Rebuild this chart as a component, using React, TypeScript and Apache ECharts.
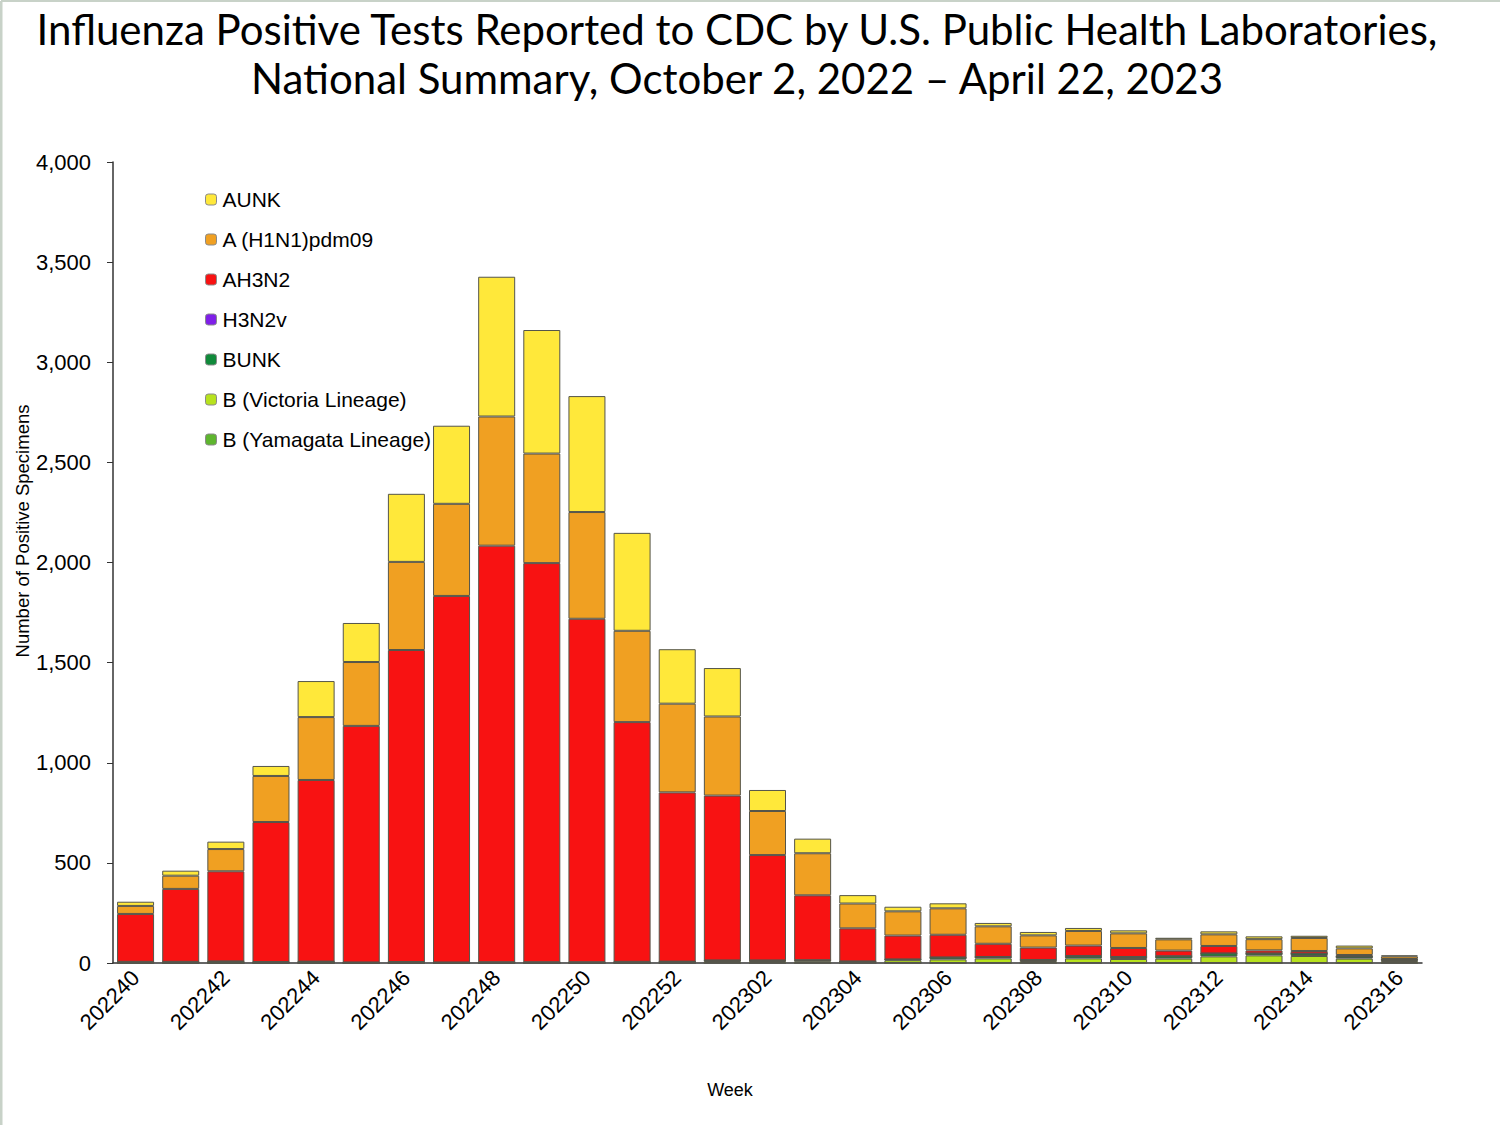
import React, { useEffect, useRef } from "react";
import * as echarts from "echarts";

const weeks = [
  "202240", "202241", "202242", "202243", "202244", "202245", "202246", "202247",
  "202248", "202249", "202250", "202251", "202252", "202301", "202302", "202303",
  "202304", "202305", "202306", "202307", "202308", "202309", "202310", "202311",
  "202312", "202313", "202314", "202315", "202316",
];

const bYamagata = [0, 0, 0, 0, 0, 0, 0, 0, 0, 0, 0, 0, 0, 0, 0, 0, 0, 0, 0, 0, 0, 0, 0, 0, 0, 0, 0, 0, 0];
const bVictoria = [1, 1, 1, 1, 1, 1, 1, 1, 1, 1, 1, 2, 4, 10, 10, 9, 6, 14, 18, 23, 10, 23, 20, 22, 33, 38, 35, 22, 10];
const bUnk = [5, 5, 7, 4, 6, 2, 4, 2, 3, 3, 3, 4, 3, 3, 3, 5, 2, 4, 10, 7, 5, 12, 10, 12, 15, 10, 12, 10, 6];
const h3n2v = [0, 0, 0, 0, 0, 0, 0, 0, 0, 0, 0, 0, 0, 0, 0, 0, 0, 0, 0, 0, 0, 0, 0, 0, 0, 0, 0, 0, 0];
const ah3n2 = [239, 364, 450, 699, 907, 1181, 1558, 1830, 2080, 1993, 1715, 1197, 845, 823, 526, 324, 165, 119, 113, 66, 62, 52, 45, 28, 37, 15, 13, 8, 4];
const h1n1 = [40, 66, 111, 230, 314, 319, 440, 460, 645, 547, 533, 456, 443, 395, 220, 210, 124, 121, 132, 87, 61, 73, 73, 56, 58, 56, 65, 33, 13];
const aUnk = [21, 25, 37, 50, 180, 195, 340, 390, 698, 617, 579, 489, 272, 242, 105, 73, 42, 23, 25, 17, 17, 15, 15, 8, 15, 14, 11, 14, 5];

const yTicks = [0, 500, 1000, 1500, 2000, 2500, 3000, 3500, 4000];

const seriesDefs = [
  { name: "B (Yamagata Lineage)", data: bYamagata, color: "#5EB52E" },
  { name: "B (Victoria Lineage)", data: bVictoria, color: "#B7E21E" },
  { name: "BUNK", data: bUnk, color: "#108A3A" },
  { name: "H3N2v", data: h3n2v, color: "#7F1FE8" },
  { name: "AH3N2", data: ah3n2, color: "#F81212" },
  { name: "A (H1N1)pdm09", data: h1n1, color: "#F0A022" },
  { name: "AUNK", data: aUnk, color: "#FFE83A" },
];

const FONT = "Liberation Sans";

export default function App() {
  const ref = useRef<HTMLDivElement>(null);
  useEffect(() => {
    document.body.style.margin = "0";
    const chart = echarts.init(ref.current!, null, { renderer: "svg" });
    chart.setOption({
      animation: false,
      backgroundColor: "#ffffff",
      textStyle: { fontFamily: FONT },
      grid: { left: 113, right: 78, top: 162, bottom: 162 },
      legend: {
        orient: "vertical",
        left: 205,
        top: 189,
        padding: 0,
        itemWidth: 11,
        itemHeight: 11,
        itemGap: 19,
        data: seriesDefs.map((s) => s.name).reverse(),
        textStyle: { fontSize: 21, color: "#000", fontFamily: FONT, padding: [0, 0, 0, 1] },
        itemStyle: { borderColor: "#8a8a8a", borderWidth: 1 },
      },
      xAxis: {
        type: "category",
        data: weeks,
        axisLine: { lineStyle: { color: "#333", width: 1.5 } },
        axisTick: { interval: 0, length: 7, lineStyle: { color: "#333" } },
        axisLabel: {
          interval: 1,
          rotate: 45,
          fontSize: 22,
          fontFamily: FONT,
          color: "#000",
          margin: 11,
        },
      },
      yAxis: {
        type: "value",
        min: yTicks[0],
        max: yTicks[yTicks.length - 1],
        interval: 500,
        splitLine: { show: false },
        axisLine: { show: true, lineStyle: { color: "#333", width: 1.5 } },
        axisTick: { show: true, length: 6, lineStyle: { color: "#333" } },
        axisLabel: {
          fontSize: 22,
          fontFamily: FONT,
          color: "#000",
          margin: 22,
          formatter: (v: number) => v.toLocaleString("en-US"),
        },
      },
      series: seriesDefs.map((s) => ({
        name: s.name,
        type: "bar",
        stack: "total",
        barWidth: 37,
        data: s.data,
        itemStyle: { color: s.color, borderColor: "#55554a", borderWidth: 1 },
      })),
      graphic: [
        {
          type: "line",
          shape: { x1: 1, y1: 1, x2: 1500, y2: 1 },
          style: { stroke: "#c8d2c8", lineWidth: 2 },
        },
        {
          type: "line",
          shape: { x1: 1, y1: 1, x2: 1, y2: 1125 },
          style: { stroke: "#c8d2c8", lineWidth: 3 },
        },
        {
          type: "text",
          x: 737,
          y: 4,
          style: {
            text: "Influenza Positive Tests Reported to CDC by U.S. Public Health Laboratories,\nNational Summary, October 2, 2022 \u2013 April 22, 2023",
            font: "42px Lato, sans-serif",
            lineHeight: 49,
            textAlign: "center",
            textVerticalAlign: "top",
            fill: "#000",
          },
        },
        {
          type: "text",
          x: 22,
          y: 531,
          rotation: Math.PI / 2,
          style: {
            text: "Number of Positive Specimens",
            font: "18.5px 'Liberation Sans', sans-serif",
            textAlign: "center",
            textVerticalAlign: "middle",
            fill: "#000",
          },
        },
        {
          type: "text",
          x: 730,
          y: 1090,
          style: {
            text: "Week",
            font: "18px 'Liberation Sans', sans-serif",
            textAlign: "center",
            textVerticalAlign: "middle",
            fill: "#000",
          },
        },
      ],
    });
    return () => chart.dispose();
  }, []);
  return <div ref={ref} style={{ width: 1500, height: 1125 }} />;
}
